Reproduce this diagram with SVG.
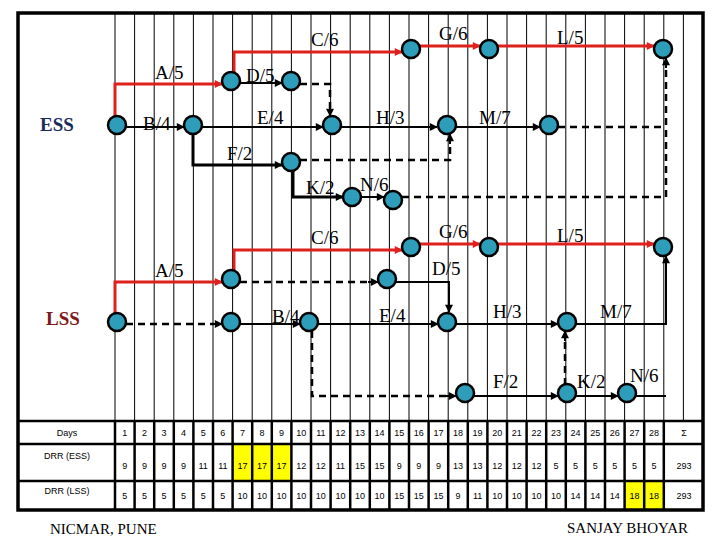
<svg xmlns="http://www.w3.org/2000/svg" width="720" height="540" viewBox="0 0 720 540">
<style>
.g{stroke:#000;stroke-width:1}
.n{fill:#2e9dba;stroke:#000;stroke-width:2.5}
.r{fill:none;stroke:#e0201c;stroke-width:3}
.b{fill:none;stroke:#000;stroke-width:2}
.bt{fill:none;stroke:#000;stroke-width:3}
.d{fill:none;stroke:#000;stroke-width:2.5;stroke-dasharray:7,5}
.l{font-family:"Liberation Serif",serif;font-size:19px;fill:#000}
.t{font-family:"Liberation Sans",Arial,sans-serif;font-size:9px;fill:#000;text-anchor:middle}
.tb{stroke:#000;stroke-width:2.5}
</style>
<defs>
<marker id="ar" viewBox="0 0 10 10" refX="9" refY="5" markerWidth="9" markerHeight="8" orient="auto" markerUnits="userSpaceOnUse"><path d="M0,0L10,5L0,10z" fill="#e0201c"/></marker>
<marker id="ab" viewBox="0 0 10 10" refX="9" refY="5" markerWidth="9" markerHeight="8" orient="auto" markerUnits="userSpaceOnUse"><path d="M0,0L10,5L0,10z" fill="#000"/></marker>
</defs>
<rect x="0" y="0" width="720" height="540" fill="#fff"/>
<g id="grid">
<path class="g" d="M115,13V421M134.6,13V421M154.2,13V421M173.8,13V421M193.4,13V421M213,13V421M232.6,13V421M252.2,13V421M271.8,13V421M291.4,13V421M311,13V421M330.6,13V421M350.2,13V421M369.8,13V421M389.4,13V421M409,13V421M428.6,13V421M448.2,13V421M467.8,13V421M487.4,13V421M507,13V421M526.6,13V421M546.2,13V421M565.8,13V421M585.4,13V421M605,13V421M624.6,13V421M644.2,13V421M663.8,13V421M683.4,13V421"/>
</g>
<g id="connectors">
<path class="r" d="M115,116V84H222" marker-end="url(#ar)"/>
<path class="r" d="M234,72V52H402" marker-end="url(#ar)"/>
<path class="r" d="M420,46H480" marker-end="url(#ar)"/>
<path class="r" d="M498,46H654" marker-end="url(#ar)"/>
<path class="b" d="M240,83H282" marker-end="url(#ab)"/>
<path class="d" d="M300,84H330V108"/>
<path class="b" d="M330,106V116" marker-end="url(#ab)"/>
<path class="b" d="M126,127H184" marker-end="url(#ab)"/>
<path class="b" d="M202,127H323" marker-end="url(#ab)"/>
<path class="b" d="M341,127H437" marker-end="url(#ab)"/>
<path class="b" d="M455,127H540" marker-end="url(#ab)"/>
<path class="d" d="M558,127H666M402,197H666V68"/>
<path class="b" d="M666,68V58" marker-end="url(#ab)"/>
<path class="bt" d="M193,134V165H282" marker-end="url(#ab)"/>
<path class="d" d="M300,160H450V144"/>
<path class="b" d="M450,144V134" marker-end="url(#ab)"/>
<path class="bt" d="M293,170V197H343" marker-end="url(#ab)"/>
<path class="b" d="M361,197H384" marker-end="url(#ab)"/>

<path class="r" d="M115,313V282H222" marker-end="url(#ar)"/>
<path class="r" d="M234,270V250H402" marker-end="url(#ar)"/>
<path class="r" d="M420,244H480" marker-end="url(#ar)"/>
<path class="r" d="M498,244H654" marker-end="url(#ar)"/>
<path class="d" d="M240,282H370"/>
<path class="b" d="M368,282H378" marker-end="url(#ab)"/>
<path class="b" d="M395,282H449V312" marker-end="url(#ab)"/>
<path class="d" d="M126,324H214"/>
<path class="b" d="M212,324H222" marker-end="url(#ab)"/>
<path class="b" d="M240,324H300" marker-end="url(#ab)"/>
<path class="b" d="M318,324H438" marker-end="url(#ab)"/>
<path class="d" d="M312,331V396H448"/>
<path class="b" d="M446,396H456" marker-end="url(#ab)"/>
<path class="b" d="M456,324H558" marker-end="url(#ab)"/>
<path class="b" d="M576,324H666V256" marker-end="url(#ab)"/>
<path class="b" d="M474,396H558" marker-end="url(#ab)"/>
<path class="d" d="M565,385V341"/>
<path class="b" d="M565,341V331" marker-end="url(#ab)"/>
<path class="b" d="M576,396H618" marker-end="url(#ab)"/>
<path class="b" d="M636,396H666"/>
</g>
<g id="nodes">
<circle id="e1" class="n" cx="117" cy="125" r="9"/>
<circle id="e2" class="n" cx="231" cy="81" r="9"/>
<circle id="e3" class="n" cx="291" cy="81" r="9"/>
<circle id="e4" class="n" cx="193" cy="125" r="9"/>
<circle id="e5" class="n" cx="332" cy="125" r="9"/>
<circle id="e6" class="n" cx="291" cy="162" r="9"/>
<circle id="e7" class="n" cx="352" cy="197" r="9"/>
<circle id="e8" class="n" cx="411" cy="49" r="9"/>
<circle id="e9" class="n" cx="489" cy="49" r="9"/>
<circle id="e10" class="n" cx="663" cy="49" r="9"/>
<circle id="e11" class="n" cx="447" cy="125" r="9"/>
<circle id="e12" class="n" cx="549" cy="125" r="9"/>
<circle id="e13" class="n" cx="393" cy="200" r="9"/>
<circle id="l1" class="n" cx="117" cy="322" r="9"/>
<circle id="l2" class="n" cx="231" cy="279" r="9"/>
<circle id="l3" class="n" cx="231" cy="322" r="9"/>
<circle id="l4" class="n" cx="309" cy="322" r="9"/>
<circle id="l5" class="n" cx="411" cy="247" r="9"/>
<circle id="l6" class="n" cx="489" cy="247" r="9"/>
<circle id="l7" class="n" cx="663" cy="247" r="9"/>
<circle id="l8" class="n" cx="387" cy="279" r="9"/>
<circle id="l9" class="n" cx="447" cy="322" r="9"/>
<circle id="l10" class="n" cx="567" cy="322" r="9"/>
<circle id="l11" class="n" cx="465" cy="393" r="9"/>
<circle id="l12" class="n" cx="567" cy="393" r="9"/>
<circle id="l13" class="n" cx="627" cy="393" r="9"/>
</g>
<g id="labels" class="l">
<text x="40" y="131" style="font-weight:bold;fill:#1b2a5a">ESS</text>
<text x="46" y="325" style="font-weight:bold;fill:#7a1a1a">LSS</text>
<text x="311" y="46">C/6</text>
<text x="439" y="40">G/6</text>
<text x="557" y="44">L/5</text>
<text x="155" y="79">A/5</text>
<text x="246" y="82">D/5</text>
<text x="257" y="124">E/4</text>
<text x="376" y="124">H/3</text>
<text x="479" y="124">M/7</text>
<text x="143" y="130">B/4</text>
<text x="227" y="160">F/2</text>
<text x="306" y="194">K/2</text>
<text x="360" y="191">N/6</text>
<text x="311" y="244">C/6</text>
<text x="439" y="238">G/6</text>
<text x="557" y="242">L/5</text>
<text x="155" y="277">A/5</text>
<text x="432" y="275">D/5</text>
<text x="272" y="323">B/4</text>
<text x="379" y="322">E/4</text>
<text x="493" y="318">H/3</text>
<text x="600" y="318">M/7</text>
<text x="493" y="388">F/2</text>
<text x="577" y="388">K/2</text>
<text x="630" y="382">N/6</text>
<text x="50" y="534" style="font-size:15px">NICMAR, PUNE</text>
<text x="567" y="533" style="font-size:15px">SANJAY BHOYAR</text>
</g>
<g id="table">
<rect x="232.6" y="444" width="58.8" height="37" fill="#ffff00"/>
<rect x="624.6" y="481" width="39.2" height="29" fill="#ffff00"/>
<path class="tb" d="M18,421H703M18,444H703M18,481H703M115,421V510M134.6,421V510M154.2,421V510M173.8,421V510M193.4,421V510M213,421V510M232.6,421V510M252.2,421V510M271.8,421V510M291.4,421V510M311,421V510M330.6,421V510M350.2,421V510M369.8,421V510M389.4,421V510M409,421V510M428.6,421V510M448.2,421V510M467.8,421V510M487.4,421V510M507,421V510M526.6,421V510M546.2,421V510M565.8,421V510M585.4,421V510M605,421V510M624.6,421V510M644.2,421V510M663.8,421V510"/>
<g class="t">
<text x="67" y="436">Days</text>
<text x="67" y="459">DRR (ESS)</text>
<text x="67" y="494">DRR (LSS)</text>
<text x="684" y="436">Σ</text>
<text x="684" y="469">293</text>
<text x="684" y="499">293</text>
<text y="436"><tspan x="124.8">1</tspan><tspan x="144.4">2</tspan><tspan x="164">3</tspan><tspan x="183.6">4</tspan><tspan x="203.2">5</tspan><tspan x="222.8">6</tspan><tspan x="242.4">7</tspan><tspan x="262">8</tspan><tspan x="281.6">9</tspan><tspan x="301.2">10</tspan><tspan x="320.8">11</tspan><tspan x="340.4">12</tspan><tspan x="360">13</tspan><tspan x="379.6">14</tspan><tspan x="399.2">15</tspan><tspan x="418.8">16</tspan><tspan x="438.4">17</tspan><tspan x="458">18</tspan><tspan x="477.6">19</tspan><tspan x="497.2">20</tspan><tspan x="516.8">21</tspan><tspan x="536.4">22</tspan><tspan x="556">23</tspan><tspan x="575.6">24</tspan><tspan x="595.2">25</tspan><tspan x="614.8">26</tspan><tspan x="634.4">27</tspan><tspan x="654">28</tspan></text>
<text y="469"><tspan x="124.8">9</tspan><tspan x="144.4">9</tspan><tspan x="164">9</tspan><tspan x="183.6">9</tspan><tspan x="203.2">11</tspan><tspan x="222.8">11</tspan><tspan x="242.4">17</tspan><tspan x="262">17</tspan><tspan x="281.6">17</tspan><tspan x="301.2">12</tspan><tspan x="320.8">12</tspan><tspan x="340.4">11</tspan><tspan x="360">15</tspan><tspan x="379.6">15</tspan><tspan x="399.2">9</tspan><tspan x="418.8">9</tspan><tspan x="438.4">9</tspan><tspan x="458">13</tspan><tspan x="477.6">13</tspan><tspan x="497.2">12</tspan><tspan x="516.8">12</tspan><tspan x="536.4">12</tspan><tspan x="556">5</tspan><tspan x="575.6">5</tspan><tspan x="595.2">5</tspan><tspan x="614.8">5</tspan><tspan x="634.4">5</tspan><tspan x="654">5</tspan></text>
<text y="499"><tspan x="124.8">5</tspan><tspan x="144.4">5</tspan><tspan x="164">5</tspan><tspan x="183.6">5</tspan><tspan x="203.2">5</tspan><tspan x="222.8">5</tspan><tspan x="242.4">10</tspan><tspan x="262">10</tspan><tspan x="281.6">10</tspan><tspan x="301.2">10</tspan><tspan x="320.8">10</tspan><tspan x="340.4">10</tspan><tspan x="360">10</tspan><tspan x="379.6">10</tspan><tspan x="399.2">15</tspan><tspan x="418.8">15</tspan><tspan x="438.4">15</tspan><tspan x="458">9</tspan><tspan x="477.6">11</tspan><tspan x="497.2">10</tspan><tspan x="516.8">10</tspan><tspan x="536.4">10</tspan><tspan x="556">10</tspan><tspan x="575.6">14</tspan><tspan x="595.2">14</tspan><tspan x="614.8">14</tspan><tspan x="634.4">18</tspan><tspan x="654">18</tspan></text>
</g>
</g>
<rect x="18" y="13" width="685" height="497" fill="none" stroke="#000" stroke-width="3.5"/>
</svg>
